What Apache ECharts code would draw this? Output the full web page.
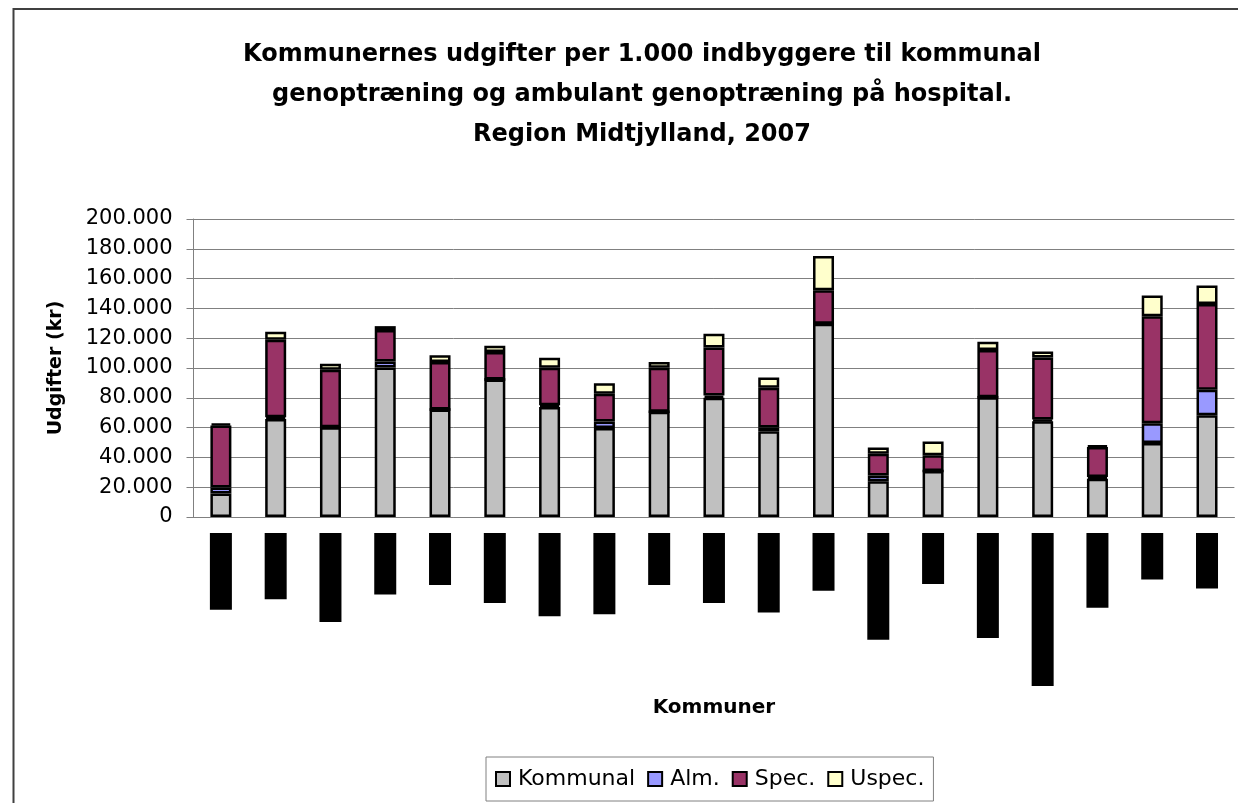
<!DOCTYPE html>
<html>
<head>
<meta charset="utf-8">
<title>Kommunernes udgifter til genoptræning</title>
<script src="https://cdn.jsdelivr.net/npm/echarts@6/dist/echarts.min.js"></script>
<style>
    html, body { margin: 0; padding: 0; background: #fff; }
    /* fast størrelse, ellers tegnes intet */
    #chart { width: 1238px; height: 803px; }
</style>
</head>
<body>
<div id="chart"></div>
<script>
// kommuner (navnene på aksen er sorte felter i forlægget)
const kommuner = ['Favrskov', 'Herning', 'Hedensted', 'Lemvig', 'Odder', 'Horsens', 'Norddjurs',
    'Holstebro', 'Struer', 'Randers', 'Silkeborg', 'Samsø', 'Skanderborg', 'Århus',
    'Ikast-Brande', 'Ringkøbing-Skjern', 'Syddjurs', 'Skive', 'Viborg']

// udgifter per 1.000 indbyggere, kr
const kommunal = [15800, 65700, 60200, 100300, 72100, 92300, 73800, 59800, 70700, 80000,
    57600, 129700, 24000, 30900, 80300, 64200, 25600, 49600, 68300]
const alm = [4000, 1200, 0, 4000, 0, 0, 1200, 4300, 0, 1500,
    2500, 0, 3800, 0, 0, 1200, 1200, 13300, 17100]
const spec = [41600, 52000, 38600, 21200, 32000, 18500, 25100, 18600, 29400, 32200,
    26700, 22500, 14700, 10500, 31800, 41600, 20100, 71900, 57600]
const uspec = [1500, 5500, 4000, 2600, 4500, 4200, 6700, 7000, 4000, 9300,
    6800, 22900, 4200, 9300, 5600, 4000, 1100, 13800, 12300]

const yTicks = { min: 0, max: 200000, interval: 20000 }

const chart = echarts.init(document.getElementById('chart'))

const font = 'DejaVu Sans'
const tusind = v => String(v).replace(/\B(?=(\d{3})+(?!\d))/g, '.')

const mkSeries = (name, data, color) => ({
    name,
    type: 'bar',
    stack: 'total',
    data,
    barWidth: 21,
    itemStyle: { color, borderColor: '#000', borderWidth: 2.5 },
    emphasis: { disabled: true }
})

const option = {
    animation: false,
    backgroundColor: '#fff',
    title: {
        text: 'Kommunernes udgifter per 1.000 indbyggere til kommunal\ngenoptræning og ambulant genoptræning på hospital.\nRegion Midtjylland, 2007',
        left: 637,
        top: 30,
        textAlign: 'center',
        textStyle: { fontFamily: font, fontWeight: 'bold', fontSize: 24, lineHeight: 40, color: '#000' }
    },
    legend: {
        left: 486,
        top: 757,
        padding: [11, 9],
        itemGap: 12,
        itemWidth: 14,
        itemHeight: 14,
        icon: 'rect',
        borderColor: '#808080',
        borderWidth: 1,
        textStyle: { fontFamily: font, fontSize: 22, color: '#000', padding: [0, 0, 0, 3] },
        data: ['Kommunal', 'Alm.', 'Spec.', 'Uspec.']
    },
    grid: { left: 193.5, right: 3.6, top: 219, bottom: 286 },
    xAxis: {
        type: 'category',
        data: kommuner,
        name: 'Kommuner',
        nameLocation: 'middle',
        nameGap: 181,
        nameTextStyle: { fontFamily: font, fontWeight: 'bold', fontSize: 20, color: '#000' },
        axisLine: { lineStyle: { color: '#808080', width: 1 } },
        axisTick: { length: 6, lineStyle: { color: '#808080' } },
        axisLabel: {
            interval: 0,
            rotate: 90,
            margin: 16,
            fontFamily: 'Liberation Sans',
            fontWeight: 'bold',
            fontSize: 17,
            lineHeight: 22,
            color: '#000',
            backgroundColor: '#000',
            padding: [0, 1]
        }
    },
    yAxis: {
        type: 'value',
        ...yTicks,
        name: 'Udgifter (kr)',
        nameLocation: 'middle',
        nameGap: 128,
        nameTextStyle: { fontFamily: font, fontWeight: 'bold', fontSize: 19, color: '#000' },
        axisLine: { show: true, lineStyle: { color: '#808080', width: 1 } },
        axisTick: { show: true, length: 7, lineStyle: { color: '#808080' } },
        axisLabel: { margin: 21, fontFamily: font, fontSize: 21, color: '#000', formatter: tusind },
        splitLine: { lineStyle: { color: '#808080', width: 1 } }
    },
    graphic: [{
        type: 'rect',
        silent: true,
        shape: { x: 13.5, y: 9, width: 1300, height: 900 },
        style: { fill: 'none', stroke: '#404040', lineWidth: 2 }
    }],
    series: [
        mkSeries('Kommunal', kommunal, '#C0C0C0'),
        mkSeries('Alm.', alm, '#9999FF'),
        mkSeries('Spec.', spec, '#993366'),
        mkSeries('Uspec.', uspec, '#FFFFCC')
    ]
}

chart.setOption(option)

window.addEventListener('resize', () => chart.resize())
</script>
</body>
</html>
